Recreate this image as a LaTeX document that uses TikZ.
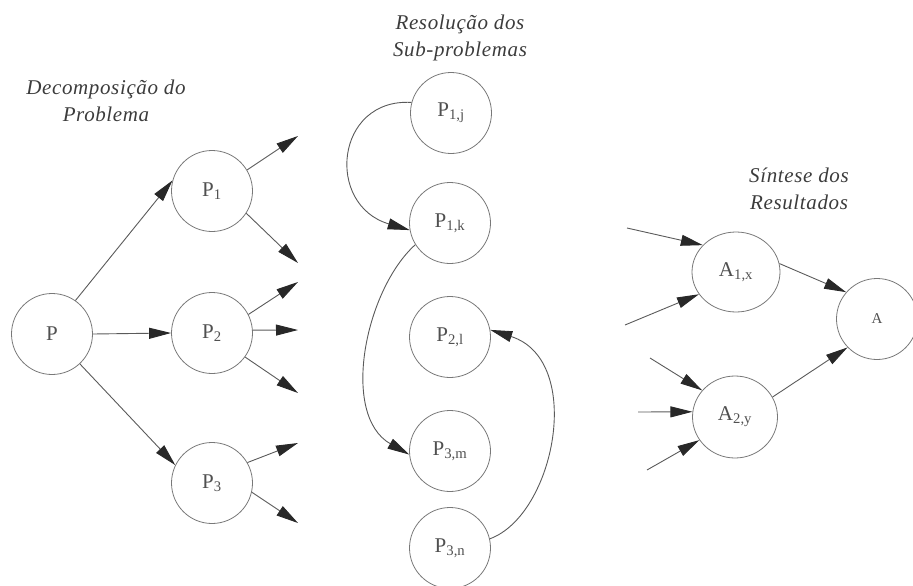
\documentclass[tikz,border=0pt]{standalone}
\usepackage{fontspec}
\setmainfont{Liberation Serif}
\usetikzlibrary{arrows.meta,shapes.geometric}
\definecolor{circgray}{RGB}{120,120,120}
\definecolor{linegray}{RGB}{90,90,90}
\definecolor{tipgray}{RGB}{40,40,40}
\definecolor{labelgray}{RGB}{80,80,80}
\definecolor{headgray}{RGB}{60,60,60}
\begin{document}
\begin{tikzpicture}[x=1pt,y=-1pt,
  state/.style={circle, draw=circgray, line width=0.8pt, minimum size=81pt,
    inner sep=0pt, text=labelgray, font=\fontsize{21}{24}\selectfont},
  oval/.style={ellipse, draw=circgray, line width=0.8pt, inner sep=0pt,
    text=labelgray, font=\fontsize{21}{24}\selectfont},
  flow/.style={draw=linegray, line width=0.9pt,
    -{Triangle[length=22pt,width=11pt,color=tipgray]}},
  heading/.style={align=center, text=headgray,
    font=\fontsize{21}{27}\selectfont\itshape\addfontfeatures{LetterSpace=3}}]
\useasboundingbox (0,0) rectangle (913,586);

% column headings
\node[heading] (h1) at (106,101) {Decomposição do\\Problema};
\node[heading] (h2) at (460,38) {Resolução dos\\Sub-problemas};
\node[heading] (h3) at (799,189) {Síntese dos\\Resultados};

% decomposition
\node[state] (P)  at (52,334)  {P};
\node[state] (P1) at (212,191) {P\textsubscript{1}};
\node[state] (P2) at (212,333) {P\textsubscript{2}};
\node[state] (P3) at (212,483) {P\textsubscript{3}};

% sub-problems
\node[state] (P1j) at (451,113) {P\textsubscript{1,j}};
\node[state] (P1k) at (450,223) {P\textsubscript{1,k}};
\node[state] (P2l) at (450,337) {P\textsubscript{2,l}};
\node[state] (P3m) at (450,451) {P\textsubscript{3,m}};
\node[state] (P3n) at (450,548) {P\textsubscript{3,n}};

% synthesis
\node[oval, minimum width=88pt, minimum height=80pt] (A1x) at (736,272) {A\textsubscript{1,x}};
\node[oval, minimum width=85pt, minimum height=82pt] (A2y) at (735,417) {A\textsubscript{2,y}};
\node[state, font=\fontsize{15}{17}\selectfont] (A) at (877,319) {A};

% loose ends of the open arrows
\coordinate (o11) at (298,136);
\coordinate (o12) at (298,263);
\coordinate (o21) at (298,282);
\coordinate (o22) at (298,330);
\coordinate (o23) at (298,393);
\coordinate (o31) at (298,443);
\coordinate (o32) at (298,523);
\coordinate (i11) at (627,228);
\coordinate (i12) at (625,325);
\coordinate (i21) at (650,358);
\coordinate (i22) at (638,412);
\coordinate (i23) at (647,470);

% P splits into P1..P3
\draw[flow] (P.55) -- (P1.165);
\draw[flow] (P.east) -- (P2.west);
\draw[flow] (P.-47) -- (P3.154);

% further splitting
\draw[flow] (P1.31) -- (o11);
\draw[flow] (P1.-33) -- (o12);
\draw[flow] (P2.27) -- (o21);
\draw[flow] (P2.4) -- (o22);
\draw[flow] (P2.-36) -- (o23);
\draw[flow] (P3.30) -- (o31);
\draw[flow] (P3.-13) -- (o32);

% dependencies between sub-problems
\draw[flow] (P1j.165) .. controls (335,98) and (325,205) .. (P1k.190);
\draw[flow] (P1k.212) .. controls (365,290) and (340,415) .. (P3m.185);
\draw[flow] (P3n.13) .. controls (555,515) and (585,360) .. (P2l.10);

% combining partial results
\draw[flow] (i11) -- (A1x.141);
\draw[flow] (i12) -- (A1x.211);
\draw[flow] (i21) -- (A2y.141);
\draw[flow] (i22) -- (A2y.173);
\draw[flow] (i23) -- (A2y.213);
\draw[flow] (A1x.11) -- (A.139);
\draw[flow] (A2y.28) -- (A.224);
\end{tikzpicture}
\end{document}
